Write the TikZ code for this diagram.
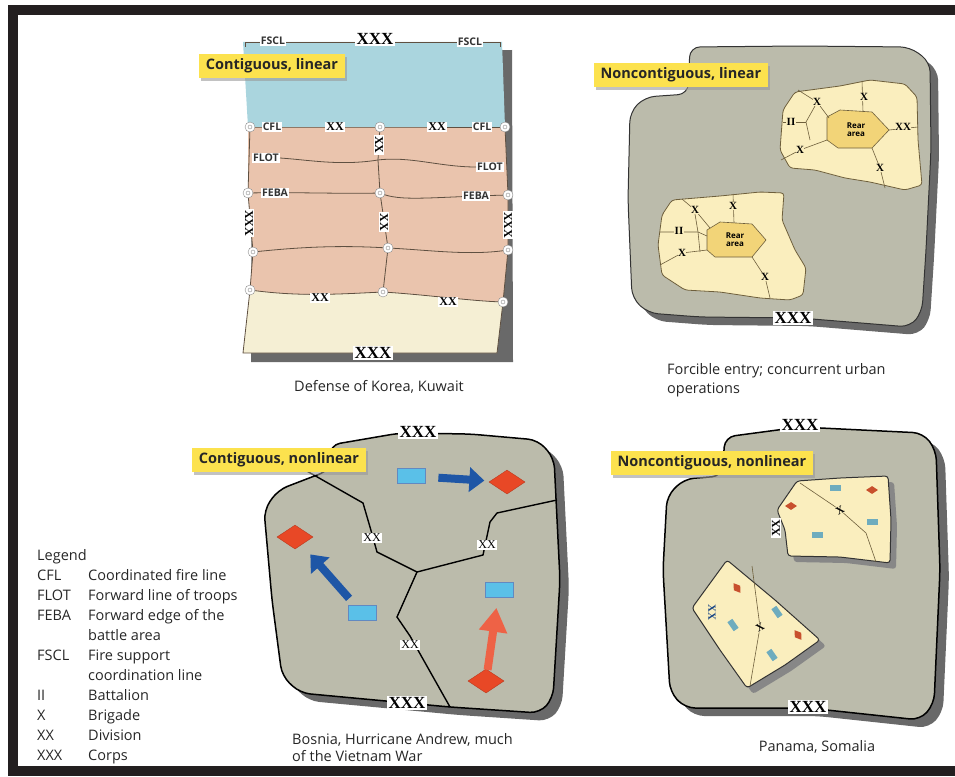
\documentclass[tikz,border=0pt]{standalone}
\usepackage{fontspec}
\setmainfont{Open Sans}
\newfontfamily\unitfont{Liberation Serif}
\usetikzlibrary{shapes.geometric,arrows.meta,shadows}

\definecolor{framecol}{RGB}{35,31,32}
\definecolor{titleyellow}{RGB}{252,226,78}
\definecolor{skyband}{RGB}{170,213,222}
\definecolor{pinkband}{RGB}{234,196,173}
\definecolor{paleband}{RGB}{245,239,212}
\definecolor{terrain}{RGB}{187,187,171}
\definecolor{zonecream}{RGB}{250,238,190}
\definecolor{reararea}{RGB}{242,212,120}
\definecolor{mapshade}{RGB}{105,105,105}
\definecolor{lineolive}{RGB}{110,95,60}
\definecolor{phasebrown}{RGB}{95,80,65}
\definecolor{enemyred}{RGB}{232,72,38}
\definecolor{friendblue}{RGB}{90,192,232}
\definecolor{arrowblue}{RGB}{30,86,166}
\definecolor{arrowred}{RGB}{238,98,70}
\definecolor{patchblue}{RGB}{110,172,190}
\definecolor{patchred}{RGB}{200,80,45}

% outlines that are used twice (shadow, then map)
\newcommand{\outlineNE}{(690,47) -- (800,46) -- (910,47) -- (930,62) -- (931,150) -- (926,250) -- (922,312) -- (910,327) -- (800,318) -- (700,317) -- (648,313) -- (632,298) -- (628,200) -- (630,112) -- (645,97) -- (688,94) -- cycle}
\newcommand{\outlineSW}{(330,445) -- (400,433) -- (470,434) -- (538,440) -- (554,458) -- (560,580) -- (553,698) -- (540,713) -- (450,707) -- (300,693) -- (282,676) -- (272,600) -- (264,510) -- (278,490) -- (330,470) -- cycle}
\newcommand{\outlineSE}{(725,437) -- (800,427) -- (923,433) -- (936,450) -- (940,570) -- (934,704) -- (920,720) -- (808,708) -- (685,708) -- (670,692) -- (663,570) -- (667,496) -- (684,479) -- (722,476) -- cycle}
\newcommand{\patchA}{(797,481) -- (840,478) -- (888,476) -- (891,520) -- (890,563) -- (840,557) -- (788,556) -- (785,530) -- (777,510) -- cycle}
\newcommand{\patchB}{(727,560) -- (775,600) -- (820,640) -- (785,665) -- (747,688) -- (720,650) -- (692,608) -- cycle}

\begin{document}
\begin{tikzpicture}[x=1pt, y=-1pt,
    titlebox/.style={fill=titleyellow, inner xsep=7pt, inner ysep=5pt,
      font=\fontsize{14.5}{16}\selectfont\bfseries, text=black!85,
      drop shadow={shadow xshift=2pt, shadow yshift=-3pt, fill=black!40, opacity=.6}},
    capnote/.style={font=\fontsize{14.5}{19}\selectfont, text=black!85, align=left, inner sep=0pt},
    corps/.style={fill=white, inner sep=1.5pt, font=\unitfont\bfseries\fontsize{17}{17}\selectfont},
    unitlbl/.style={fill=white, inner sep=1pt, font=\unitfont\bfseries\fontsize{12}{12}\selectfont},
    unitsm/.style={fill=zonecream, inner sep=.5pt, font=\unitfont\bfseries\fontsize{11}{11}\selectfont},
    ctrlbl/.style={fill=white, inner sep=1pt, font=\fontsize{10.5}{10.5}\selectfont\bfseries, text=black!80},
    reartxt/.style={align=center, inner sep=0pt, font=\fontsize{8}{8}\selectfont\bfseries},
    phaseline/.style={draw=phasebrown, line width=.8pt},
    pmark/.style={circle, draw=black!45, fill=white, minimum size=10pt, inner sep=0pt,
      path picture={\draw[black!45, line width=.4pt] (path picture bounding box.center) circle (2pt);}},
    mapshadow/.style={fill=mapshade, rounded corners=10pt},
    terrainmap/.style={fill=terrain, draw=black!80, line width=1pt, rounded corners=10pt},
    zone/.style={fill=zonecream, draw=lineolive, line width=.8pt, rounded corners=3pt},
    zoneshadow/.style={fill=mapshade!80, rounded corners=3pt},
    divline/.style={draw=lineolive, line width=.6pt},
    rear/.style={fill=reararea, draw=lineolive, line width=.6pt},
    sector/.style={draw=black, line width=1.4pt},
    enemy/.style={diamond, fill=enemyred, draw=enemyred!80!black, minimum width=36pt, minimum height=24pt, inner sep=0pt},
    friend/.style={rectangle, fill=friendblue, draw=arrowblue!70, line width=.8pt, minimum width=28pt, minimum height=15pt, inner sep=0pt},
    enemysm/.style={diamond, fill=patchred, minimum width=12pt, minimum height=8pt, inner sep=0pt},
    friendsm/.style={rectangle, fill=patchblue, minimum width=11pt, minimum height=6pt, inner sep=0pt},
    fatblue/.style={draw=arrowblue, line width=8pt, -{Triangle[length=15pt,width=24pt]}},
    fatred/.style={draw=arrowred, line width=8pt, -{Triangle[length=24pt,width=27pt]}},
    legendtxt/.style={font=\fontsize{14.5}{20}\selectfont, text=black!85, inner sep=0pt}]
  \useasboundingbox (0,0) rectangle (955,776);

  % --- frame ---
  \fill[framecol] (8,5) rectangle (955,15);
  \fill[framecol] (8,5) rectangle (18,776);
  \fill[framecol] (8,766) rectangle (955,776);

  % --- Contiguous, linear (top left) ---
  \fill[mapshade] (252,52) -- (512,50) -- (513,362) -- (251,362) -- cycle;
  \fill[skyband] (243,42) -- (502,42) -- (505,127) -- (248,127) -- cycle;
  \fill[pinkband] (248,127) -- (505,127) -- (508,195) -- (508,250) -- (503,302)
    .. controls (470,301) and (430,295) .. (383,292) .. controls (340,294) and (300,297) .. (250,290)
    -- (253,252) -- (248,193) -- cycle;
  \fill[paleband] (250,290) .. controls (300,297) and (340,294) .. (383,292)
    .. controls (430,295) and (470,301) .. (503,302) -- (497,353) -- (243,353) -- cycle;

  % phase line points
  \coordinate (cflW) at (250,127);  \coordinate (cflC) at (380,127);  \coordinate (cflE) at (505,127);
  \coordinate (febW) at (248,193);  \coordinate (febC) at (380,193);  \coordinate (febE) at (508,195);
  \coordinate (lnW) at (253,252);   \coordinate (lnC) at (388,248);   \coordinate (lnE) at (508,250);
  \coordinate (rrW) at (250,290);   \coordinate (rrC) at (383,292);   \coordinate (rrE) at (503,302);

  \draw[phaseline] (245,47) -- (245,42) -- (500,42) -- (500,47);
  \draw[phaseline] (cflW) -- (cflC) -- (cflE);
  \draw[phaseline] (febW) .. controls (300,192) and (340,194) .. (febC) .. controls (400,202) and (430,197) .. (febE);
  \draw[phaseline] (lnW) .. controls (300,247) and (340,245) .. (lnC) .. controls (430,250) and (470,256) .. (lnE);
  \draw[phaseline] (rrW) .. controls (300,297) and (340,294) .. (rrC) .. controls (430,295) and (470,301) .. (rrE);
  \draw[phaseline] (cflC) -- (378,160) -- (febC) -- (lnC) -- (rrC);
  \draw[phaseline] (cflW) -- (febW) -- (lnW) -- (rrW) -- (243,353) -- (497,353) -- (rrE) -- (lnE) -- (febE) -- (cflE);

  \node[ctrlbl] (flotL) at (266,158) {FLOT};
  \node[ctrlbl] (flotR) at (490,167) {FLOT};
  \draw[phaseline] (flotL.east) .. controls (310,160) and (340,166) .. (378,160)
    .. controls (410,156) and (440,167) .. (flotR.west);

  \foreach \c in {cflW,cflC,cflE,febW,febC,febE,lnW,lnC,lnE,rrW,rrC,rrE}
    \node[pmark] (m-\c) at (\c) {};

  \node[ctrlbl] (fsclL) at (273,41) {FSCL};
  \node[corps] (corpsN1) at (375,39) {XXX};
  \node[ctrlbl] (fsclR) at (470,42) {FSCL};
  \node[ctrlbl] (cflL) at (272,127) {CFL};
  \node[unitlbl] (divA) at (335,127) {XX};
  \node[unitlbl] (divB) at (437,127) {XX};
  \node[ctrlbl] (cflR) at (482,127) {CFL};
  \node[unitlbl, rotate=-90] (divC) at (379,145) {XX};
  \node[ctrlbl] (febaL) at (275,193) {FEBA};
  \node[ctrlbl] (febaR) at (476,196) {FEBA};
  \node[unitlbl, rotate=-90] (corpsW1) at (249,223) {XXX};
  \node[unitlbl, rotate=-90] (divD) at (384,222) {XX};
  \node[unitlbl, rotate=-90] (corpsE1) at (508,225) {XXX};
  \node[unitlbl] (divE) at (320,298) {XX};
  \node[unitlbl] (divF) at (448,302) {XX};
  \node[corps] (corpsS1) at (373,353) {XXX};

  \node[titlebox] (t1) at (272,66) {Contiguous, linear};
  \node[capnote] (cap1) at (379,387) {Defense of Korea, Kuwait};

  % --- Noncontiguous, linear (top right) ---
  \fill[mapshadow, shift={(8,8)}] \outlineNE;
  \path[terrainmap] \outlineNE;

  % upper brigade area
  \path[zone] (783,110) -- (795,92) -- (840,86) -- (870,80) -- (905,84) -- (917,97) -- (918,140)
    -- (922,185) -- (905,190) -- (870,182) -- (845,178) -- (815,170) -- (790,168) -- (780,150) -- cycle;
  \path[rear] (827,117) -- (840,110) -- (872,112) -- (889,130) -- (872,148) -- (838,148) -- (827,140) -- cycle;
  \draw[divline] (798,90) -- (817,102) -- (829,118);
  \draw[divline] (862,81) -- (863,112);
  \draw[divline] (815,106) -- (806,122) -- (810,140);
  \draw[divline] (783,122) -- (806,122);
  \draw[divline] (781,160) -- (800,150) -- (827,140);
  \draw[divline] (872,148) -- (880,168) -- (885,188);
  \draw[divline] (889,130) -- (918,127);
  \node[reartxt] (rearN) at (856,130) {Rear\\area};
  \node[unitsm] (brN1) at (817,102) {X};
  \node[unitsm] (brN2) at (864,97) {X};
  \node[unitsm] (btN) at (791,122) {II};
  \node[unitsm] (brN3) at (800,150) {X};
  \node[unitsm] (brN4) at (880,168) {X};
  \node[unitsm] (divN) at (903,127) {XX};

  % lower brigade area
  \path[zone] (662,215) -- (672,200) -- (720,196) -- (760,192) -- (784,193) -- (782,220) -- (795,250)
    -- (806,268) -- (803,295) -- (790,300) -- (760,298) -- (720,292) -- (685,290) -- (662,275) -- (658,245) -- cycle;
  \path[rear] (707,230) -- (720,222) -- (752,224) -- (766,240) -- (752,257) -- (715,257) -- (707,250) -- cycle;
  \draw[divline] (682,199) -- (695,210) -- (710,228);
  \draw[divline] (733,194) -- (734,223);
  \draw[divline] (695,214) -- (698,232) -- (700,252);
  \draw[divline] (660,232) -- (698,232) -- (707,236);
  \draw[divline] (660,265) -- (682,253) -- (707,250);
  \draw[divline] (752,257) -- (765,277) -- (770,298);
  \node[reartxt] (rearS) at (735,240) {Rear\\area};
  \node[unitsm] (brS1) at (695,210) {X};
  \node[unitsm] (brS2) at (733,206) {X};
  \node[unitsm] (btS) at (679,231) {II};
  \node[unitsm] (brS3) at (682,253) {X};
  \node[unitsm] (brS4) at (765,277) {X};

  \node[corps] (corpsS2) at (793,318) {XXX};
  \node[titlebox] (t2) at (681,75) {Noncontiguous, linear};
  \node[capnote, anchor=north west] (cap2) at (667,363) {Forcible entry; concurrent urban\\operations};

  % --- Contiguous, nonlinear (bottom left) ---
  \fill[mapshadow, shift={(9,8)}] \outlineSW;
  \path[terrainmap, draw=black, line width=1.5pt] \outlineSW;

  \coordinate (junc) at (417,572);
  \draw[sector] (305,470) -- (363,503) -- (370,527) -- (377,552) -- (junc);
  \draw[sector] (junc) -- (483,555) -- (490,522) -- (497,513) -- (557,500);
  \draw[sector] (junc) -- (397,617) -- (410,636) -- (450,707);
  \node[unitlbl, font=\unitfont\fontsize{12}{12}\selectfont] (divW3) at (372,538) {XX};
  \node[unitlbl, font=\unitfont\fontsize{12}{12}\selectfont] (divE3) at (487,545) {XX};
  \node[unitlbl, font=\unitfont\fontsize{12}{12}\selectfont] (divS3) at (410,645) {XX};

  \node[friend] (bluA) at (411,476) {};
  \node[enemy] (redA) at (507,482) {};
  \node[enemy] (redB) at (295,537) {};
  \node[friend] (bluB) at (362,613) {};
  \node[friend] (bluC) at (499,590) {};
  \node[enemy] (redC) at (486,681) {};
  \draw[fatblue, shorten <=13pt, shorten >=6pt] (bluA) -- (redA);
  \draw[fatblue, shorten <=9pt, shorten >=13pt] (bluB) -- (redB);
  \draw[fatred, shorten >=10pt] (redC) -- (bluC);

  \node[corps] (corpsN3) at (418,432) {XXX};
  \node[corps] (corpsS3) at (407,703) {XXX};
  \node[titlebox] (t3) at (279,460) {Contiguous, nonlinear};
  \node[capnote, anchor=north west, font=\fontsize{14.5}{17}\selectfont] (cap3) at (292,733) {Bosnia, Hurricane Andrew, much\\of the Vietnam War};

  % --- Noncontiguous, nonlinear (bottom right) ---
  \fill[mapshadow, shift={(9,8)}] \outlineSE;
  \path[terrainmap, draw=black, line width=1.5pt] \outlineSE;

  \fill[zoneshadow, shift={(6,6)}] \patchA;
  \path[zone, draw=black!80, line width=1pt] \patchA;
  \draw[divline] (800,483) -- (840,510) -- (866,533) -- (876,562);
  \node[friendsm] (fa1) at (835,488) {};
  \node[enemysm] (ea1) at (872,490) {};
  \node[enemysm] (ea2) at (791,506) {};
  \node[friendsm] (fa2) at (872,522) {};
  \node[friendsm] (fa3) at (817,535) {};
  \node[unitsm, rotate=30] (brA) at (840,510) {X};
  \node[unitlbl, rotate=90, fill=white] (divA4) at (776,528) {XX};

  \fill[zoneshadow, shift={(6,6)}] \patchB;
  \path[zone, draw=black!80, line width=1pt] \patchB;
  \draw[divline] (752,566) -- (760,627) -- (750,686);
  \node[enemysm, rotate=-55] (eb1) at (737,588) {};
  \node[enemysm, rotate=-55] (eb2) at (798,635) {};
  \node[friendsm, rotate=-55] (fb1) at (777,612) {};
  \node[friendsm, rotate=-55] (fb2) at (733,625) {};
  \node[friendsm, rotate=-55] (fb3) at (772,655) {};
  \node[unitsm, rotate=30] (brB) at (760,627) {X};
  \node[unitsm, rotate=-90, text=arrowblue!80!black] (divB4) at (712,612) {XX};

  \node[corps] (corpsN4) at (800,425) {XXX};
  \node[corps] (corpsS4) at (808,707) {XXX};
  \node[titlebox] (t4) at (712,463) {Noncontiguous, nonlinear};
  \node[capnote] (cap4) at (817,747) {Panama, Somalia};

  % --- legend ---
  \node[legendtxt, anchor=north west] (legend) at (37,546) {%
    \begin{tabular}{@{}p{51pt}@{}l@{}}
      Legend & \\
      CFL & Coordinated fire line\\
      FLOT & Forward line of troops\\
      FEBA & Forward edge of the\\
           & battle area\\
      FSCL & Fire support\\
           & coordination line\\
      II & Battalion\\
      X & Brigade\\
      XX & Division\\
      XXX & Corps
    \end{tabular}};
\end{tikzpicture}
\end{document}
